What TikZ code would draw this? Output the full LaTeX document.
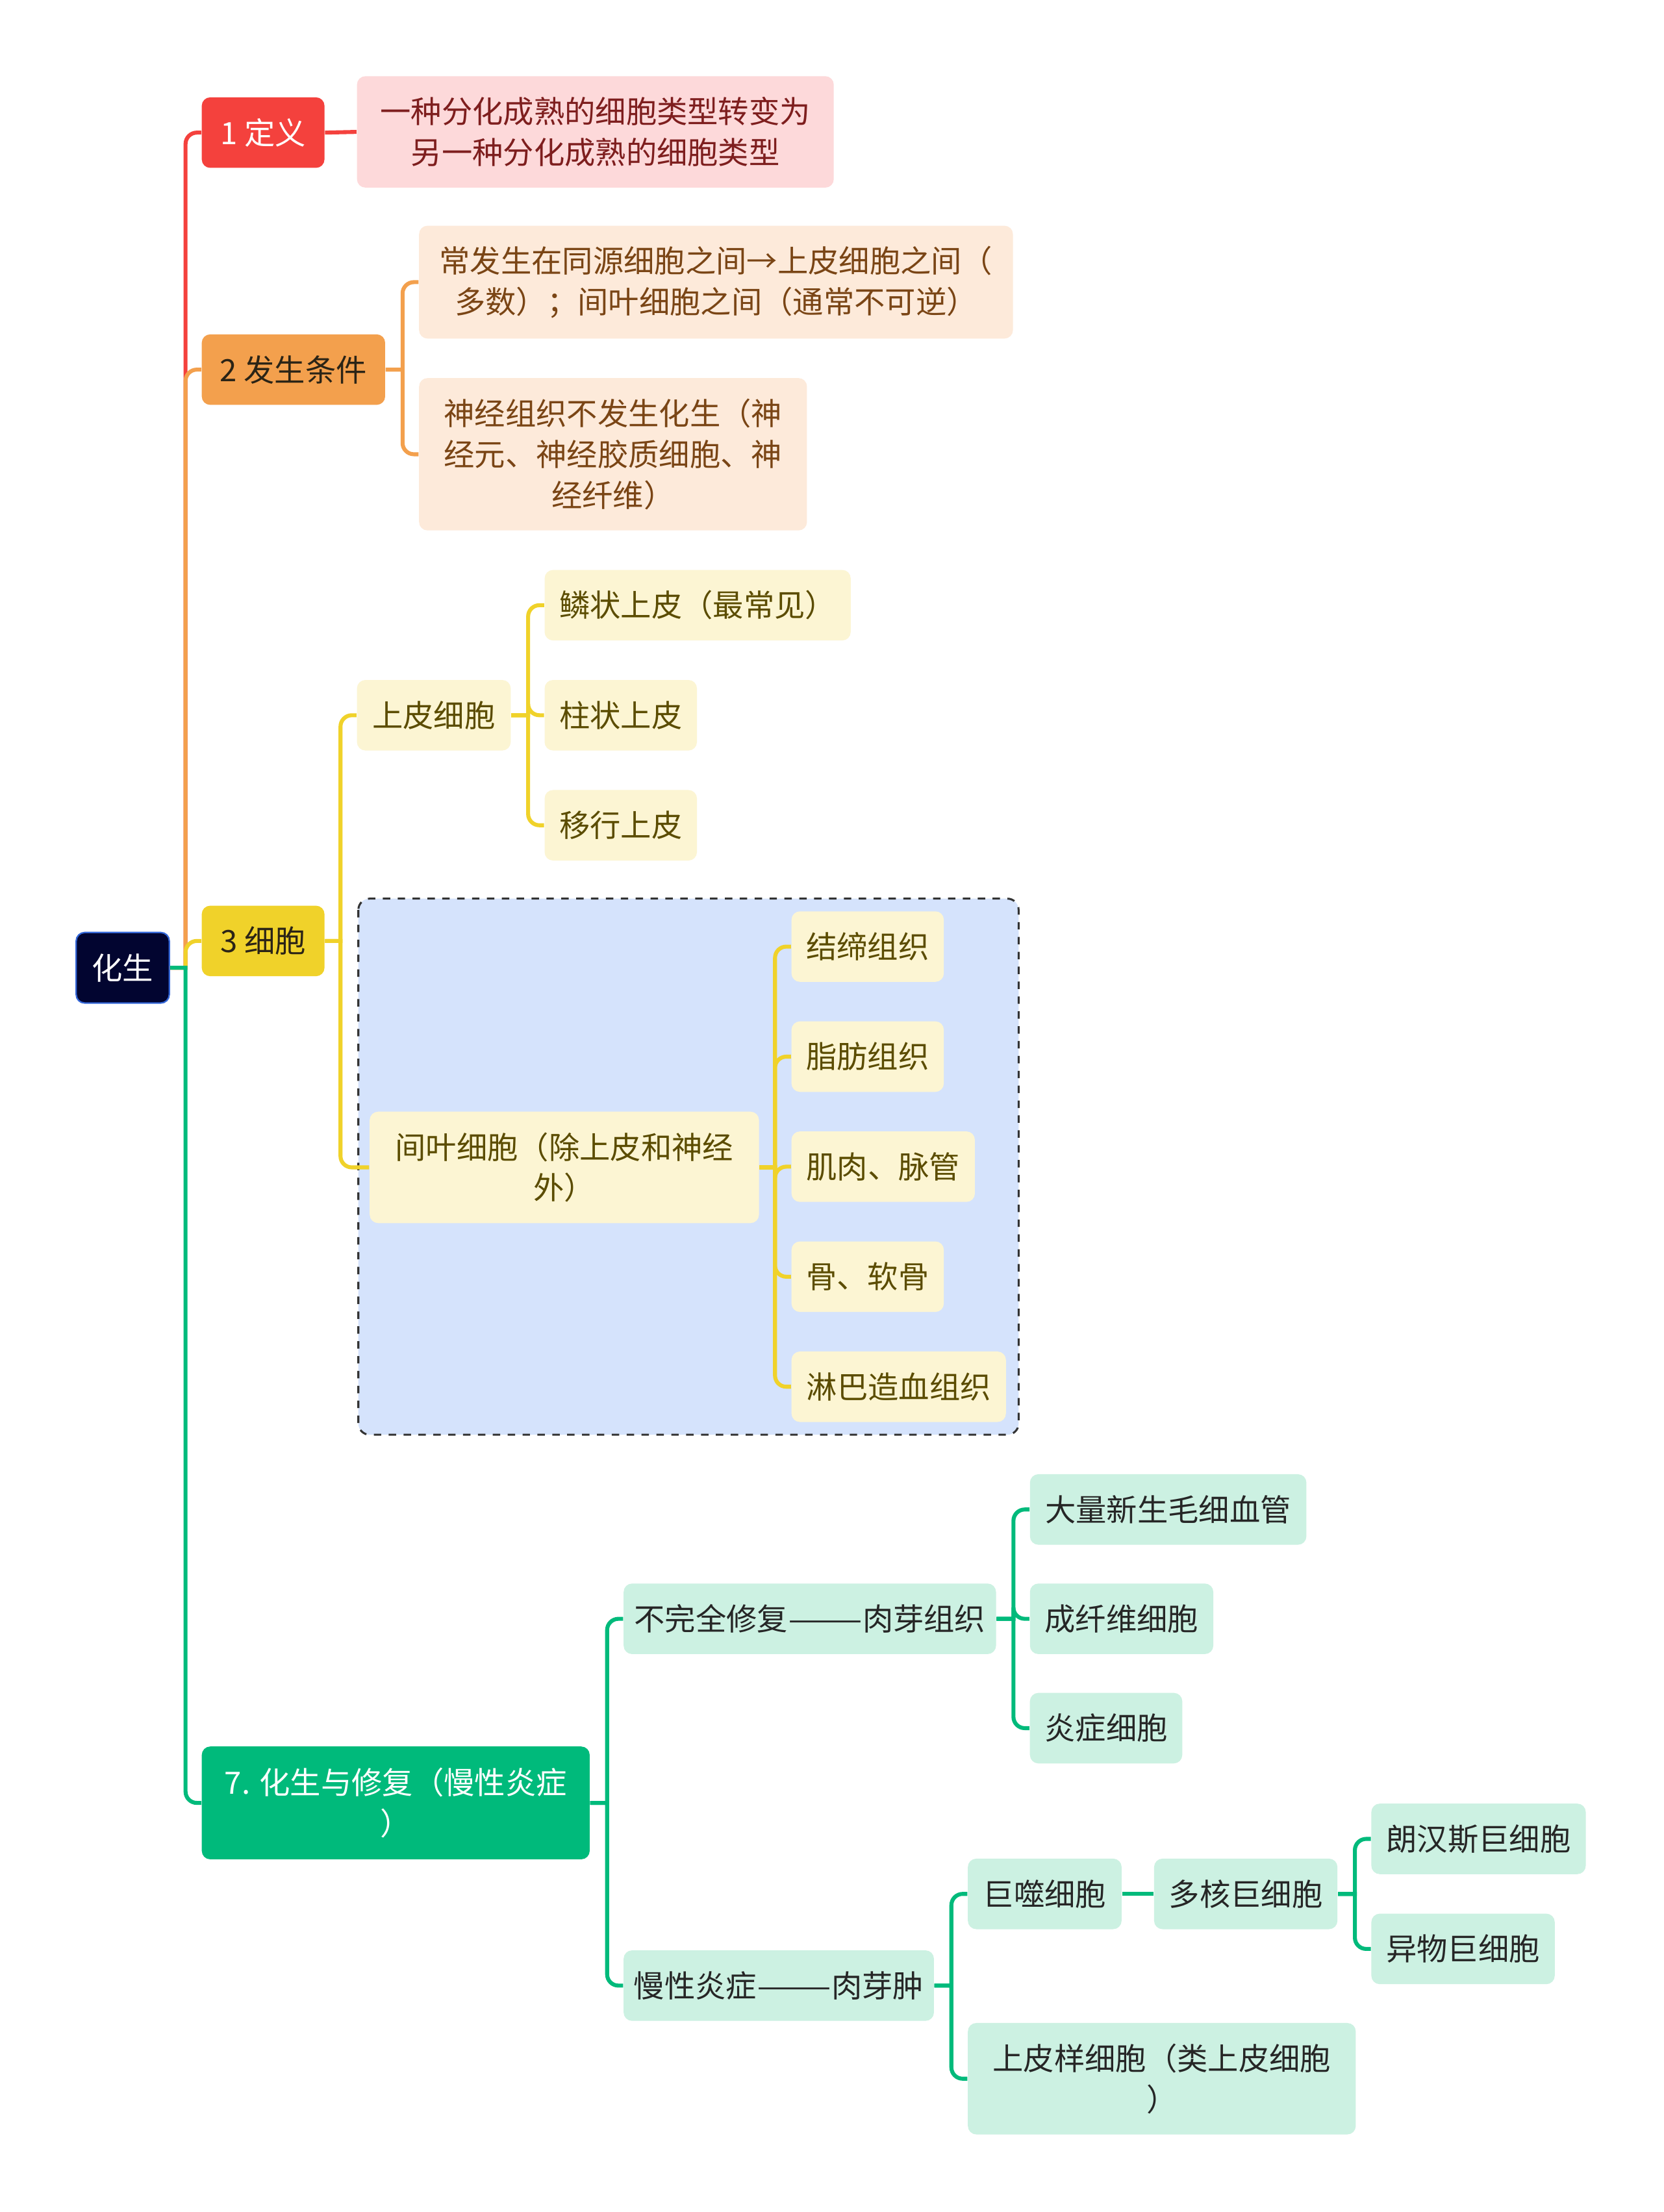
\documentclass[tikz,border=0pt]{standalone}
\usepackage{fontspec}
\setmainfont{Noto Sans CJK SC}
\definecolor{nacht}{HTML}{020530}
\definecolor{nachtr}{HTML}{3467D8}
\definecolor{rot}{HTML}{F4413D}
\definecolor{rotl}{HTML}{FDD9DA}
\definecolor{rott}{HTML}{7E1E1E}
\definecolor{orng}{HTML}{F3A04D}
\definecolor{orngl}{HTML}{FDEADA}
\definecolor{orngt}{HTML}{7A4515}
\definecolor{gelb}{HTML}{F0D22A}
\definecolor{gelbl}{HTML}{FCF5D3}
\definecolor{gelbt}{HTML}{5B4C00}
\definecolor{gruen}{HTML}{00BA7B}
\definecolor{gruenl}{HTML}{CCF1E2}
\definecolor{blaul}{HTML}{D5E3FC}
\definecolor{dunkel}{HTML}{2B2416}
\newcommand\langstrich{\scalebox{1.45}[1]{——}}

\begin{document}
\begin{tikzpicture}[x=0.02cm,y=-0.02cm,
  box/.style={rounded corners=0.12cm, inner sep=0pt, align=center, minimum height=1cm,
    font=\fontsize{12.4pt}{16.5pt}\selectfont},
  rootbox/.style={box, fill=nacht, draw=nachtr, line width=0.6pt, text=white},
  redbox/.style={box, fill=rot, text=white},
  redsub/.style={box, fill=rotl, text=rott},
  orbox/.style={box, fill=orng, text=dunkel},
  orsub/.style={box, fill=orngl, text=orngt},
  yebox/.style={box, fill=gelb, text=dunkel},
  yesub/.style={box, fill=gelbl, text=gelbt},
  grbox/.style={box, fill=gruen, text=white},
  grsub/.style={box, fill=gruenl, text=black!85},
  redl/.style={rot, line width=1.6pt},
  orl/.style={orng, line width=1.6pt},
  yel/.style={gelb, line width=1.6pt},
  grl/.style={gruen, line width=1.6pt},
  rundeck/.style={rounded corners=0.16cm}]
  \fill[white] (0,0) rectangle (1179,1568);
  \useasboundingbox (0,0) rectangle (1179,1568);
  % Rahmen um das Mesenchym
  \draw[fill=blaul, draw=black!80, dashed, line width=0.8pt, rounded corners=0.16cm]
    (254,637) rectangle (722,1017);

  % Wurzel und erste Ebene
  \node[rootbox, minimum width=1.32cm] (huasheng) at (87,686) {化生};
  \node[redbox, minimum width=1.74cm] (dingyi) at (186.5,94) {1 定义};
  \node[orbox, minimum width=2.6cm] (tiaojian) at (208,262) {2 发生条件};
  \node[yebox, minimum width=1.74cm] (xibao) at (186.5,667) {3 细胞};
  \node[grbox, minimum width=5.5cm, minimum height=1.6cm] (xiufu) at (280.5,1278)
    {7. 化生与修复（慢性炎症\\）};

  % 1
  \node[redsub, minimum width=6.76cm, minimum height=1.58cm] (dingyiA) at (422,93.5)
    {一种分化成熟的细胞类型转变为\\另一种分化成熟的细胞类型};
  % 2
  \node[orsub, minimum width=8.42cm, minimum height=1.6cm] (tjA) at (507.5,200)
    {常发生在同源细胞之间→上皮细胞之间（\\多数）；间叶细胞之间（通常不可逆）};
  \node[orsub, minimum width=5.5cm, minimum height=2.16cm] (tjB) at (434.5,322)
    {神经组织不发生化生（神\\经元、神经胶质细胞、神\\经纤维）};
  % 3
  \node[yesub, minimum width=2.18cm] (shangpi) at (307.5,507) {上皮细胞};
  \node[yesub, minimum width=4.34cm] (sp1) at (494.5,429) {鳞状上皮（最常见）};
  \node[yesub, minimum width=2.16cm] (sp2) at (440,507) {柱状上皮};
  \node[yesub, minimum width=2.16cm] (sp3) at (440,585) {移行上皮};
  \node[yesub, minimum width=5.52cm, minimum height=1.58cm] (jianye) at (400,827.5)
    {间叶细胞（除上皮和神经\\外）};
  \node[yesub, minimum width=2.16cm] (jy1) at (615,671) {结缔组织};
  \node[yesub, minimum width=2.16cm] (jy2) at (615,749) {脂肪组织};
  \node[yesub, minimum width=2.6cm] (jy3) at (626,827) {肌肉、脉管};
  \node[yesub, minimum width=2.16cm] (jy4) at (615,905) {骨、软骨};
  \node[yesub, minimum width=3.04cm] (jy5) at (637,983) {淋巴造血组织};
  % 7
  \node[grsub, minimum width=5.28cm] (buwan) at (574,1147.5) {不完全修复\langstrich 肉芽组织};
  \node[grsub, minimum width=3.92cm] (bw1) at (828,1070) {大量新生毛细血管};
  \node[grsub, minimum width=2.6cm] (bw2) at (795,1147.5) {成纤维细胞};
  \node[grsub, minimum width=2.16cm] (bw3) at (784,1225) {炎症细胞};
  \node[grsub, minimum width=4.4cm] (manxing) at (552,1407.5) {慢性炎症\langstrich 肉芽肿};
  \node[grsub, minimum width=2.18cm] (jushi) at (740.5,1342.5) {巨噬细胞};
  \node[grsub, minimum width=2.6cm] (duohe) at (883,1342.5) {多核巨细胞};
  \node[grsub, minimum width=3.04cm] (langhan) at (1048,1303.5) {朗汉斯巨细胞};
  \node[grsub, minimum width=2.6cm] (yiwu) at (1037,1381.5) {异物巨细胞};
  \node[grsub, minimum width=5.5cm, minimum height=1.58cm] (yangxibao) at (823.5,1473.5)
    {上皮样细胞（类上皮细胞\\）};

  % Verbindungen
  \draw[redl] (huasheng.east) -- ++(11,0) [rundeck] |- (dingyi.west);
  \draw[orl] (huasheng.east) -- ++(11,0) [rundeck] |- (tiaojian.west);
  \draw[yel] (huasheng.east) -- ++(11,0) [rundeck] |- (xibao.west);
  \draw[grl] (huasheng.east) -- ++(11,0) [rundeck] |- (xiufu.west);

  \draw[redl] (dingyi.east) -- (dingyiA.west);
  \foreach \k in {tjA,tjB}
    \draw[orl] (tiaojian.east) -- ++(12,0) [rundeck] |- (\k.west);
  \foreach \k in {shangpi,jianye}
    \draw[yel] (xibao.east) -- ++(11,0) [rundeck] |- (\k.west);
  \foreach \k in {sp1,sp2,sp3}
    \draw[yel] (shangpi.east) -- ++(12,0) [rundeck] |- (\k.west);
  \foreach \k in {jy1,jy2,jy3,jy4,jy5}
    \draw[yel] (jianye.east) -- ++(11,0) [rundeck] |- (\k.west);
  \foreach \k in {buwan,manxing}
    \draw[grl] (xiufu.east) -- ++(12,0) [rundeck] |- (\k.west);
  \foreach \k in {bw1,bw2,bw3}
    \draw[grl] (buwan.east) -- ++(12,0) [rundeck] |- (\k.west);
  \foreach \k in {jushi,yangxibao}
    \draw[grl] (manxing.east) -- ++(12,0) [rundeck] |- (\k.west);
  \draw[grl] (jushi.east) -- (duohe.west);
  \foreach \k in {langhan,yiwu}
    \draw[grl] (duohe.east) -- ++(12,0) [rundeck] |- (\k.west);
\end{tikzpicture}
\end{document}
